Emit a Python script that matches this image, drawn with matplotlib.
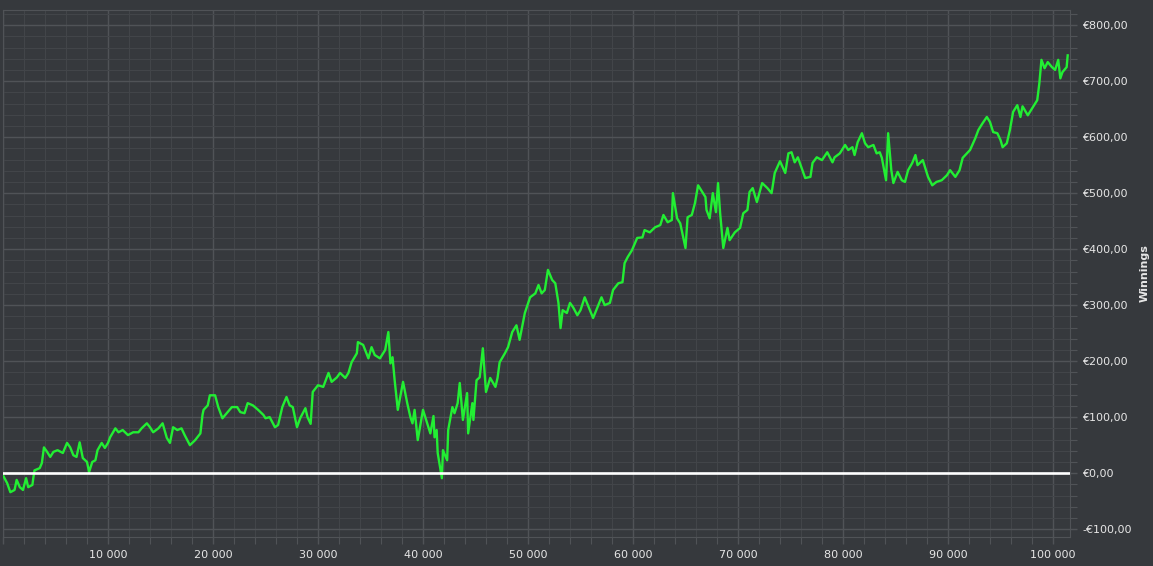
"""Cumulative winnings graph, dark theme."""

import matplotlib

matplotlib.use("Agg")
import matplotlib.pyplot as plt
from matplotlib.ticker import FuncFormatter, MultipleLocator

# hands played vs winnings (EUR)
hands = [
    0, 400, 700, 1100, 1300, 1600, 1900, 2200, 2400, 2800, 2900, 3000, 3500, 3700,
    3900, 4200, 4500, 4800, 5200, 5700, 6100, 6400, 6700, 7000, 7300, 7600, 8000,
    8200, 8500, 8800, 9000, 9400, 9700, 10000, 10200, 10700, 11000, 11400, 11900,
    12400, 12900, 13200, 13700, 14000, 14300, 14800, 15200, 15600, 15900, 16200,
    16600, 17000, 17300, 17800, 18300, 18800, 19000, 19100, 19500, 19700, 20200,
    20500, 20900, 21300, 21800, 22300, 22600, 23000, 23300, 23800, 24300, 24800,
    25000, 25400, 25900, 26200, 26600, 27000, 27300, 27600, 28000, 28300, 28800,
    29000, 29300, 29500, 30000, 30500, 31000, 31300, 31800, 32100, 32600, 32900,
    33200, 33700, 33800, 34300, 34800, 35100, 35400, 35900, 36400, 36700, 36900,
    37100, 37300, 37600, 38100, 38500, 38800, 39000, 39200, 39500, 40000, 40400,
    40700, 41000, 41100, 41300, 41400, 41800, 41900, 42300, 42400, 42800, 43000,
    43300, 43500, 43800, 44200, 44300, 44700, 44800, 45100, 45400, 45700, 46000,
    46400, 46900, 47100, 47300, 47800, 48100, 48500, 48900, 49200, 49700, 50200,
    50700, 51000, 51300, 51600, 51900, 52300, 52600, 52900, 53100, 53300, 53700,
    54000, 54300, 54700, 55000, 55400, 55700, 56200, 56700, 57000, 57300, 57800,
    58100, 58600, 59000, 59200, 59500, 59900, 60400, 60900, 61100, 61600, 62100,
    62600, 62900, 63300, 63700, 63800, 64200, 64500, 65000, 65200, 65600, 65900,
    66200, 66600, 66900, 67000, 67300, 67600, 67900, 68100, 68300, 68600, 69000,
    69200, 69700, 70200, 70500, 70900, 71100, 71400, 71800, 72300, 72800, 73200,
    73500, 74000, 74500, 74800, 75100, 75400, 75700, 76400, 76900, 77100, 77500,
    78000, 78500, 79000, 79200, 79700, 80200, 80500, 80900, 81100, 81400, 81800,
    82100, 82400, 82900, 83200, 83500, 83700, 84100, 84300, 84600, 84800, 85200,
    85600, 85900, 86200, 86600, 86900, 87100, 87600, 88100, 88500, 88900, 89400,
    89900, 90200, 90700, 91100, 91400, 92100, 92600, 92900, 93300, 93700, 94000,
    94300, 94700, 95000, 95200, 95600, 95900, 96200, 96600, 96900, 97100, 97600,
    98100, 98500, 98700, 98900, 99200, 99500, 99900, 100200, 100500, 100700,
    100900, 101300, 101400,
]
winnings = [
    -4, -18, -34, -30, -12, -25, -30, -9, -25, -21, -7, 5, 9, 18,
    46, 38, 29, 38, 41, 36, 54, 46, 32, 29, 55, 27, 20,
    2, 20, 23, 41, 54, 45, 54, 64, 80, 73, 77, 68,
    73, 73, 80, 89, 82, 73, 80, 89, 63, 54, 82,
    77, 80, 68, 50, 59, 71, 104, 113, 121, 139, 139,
    118, 98, 107, 118, 118, 109, 107, 125, 121, 113, 104,
    98, 100, 82, 86, 118, 136, 121, 118, 82, 98, 116,
    100, 88, 145, 157, 154, 179, 163, 171, 179, 170, 179,
    198, 214, 234, 229, 205, 225, 211, 205, 220, 252, 196,
    207, 166, 113, 163, 125, 100, 89, 113, 59, 113, 89,
    71, 102, 64, 77, 36, -9, 41, 23, 77, 118, 107,
    125, 161, 95, 143, 71, 125, 95, 166, 171, 223, 145,
    170, 154, 170, 198, 214, 225, 252, 264, 238, 286, 314,
    321, 336, 321, 327, 363, 345, 339, 304, 259, 291, 286,
    304, 296, 282, 291, 314, 300, 277, 300, 314, 300, 304,
    327, 339, 341, 375, 386, 398, 420, 421, 434, 430, 439,
    443, 461, 448, 452, 500, 455, 446, 402, 457, 461, 482,
    514, 502, 493, 470, 455, 500, 466, 518, 464, 402, 438,
    416, 430, 438, 464, 470, 502, 509, 484, 518, 509, 500,
    536, 557, 536, 571, 573, 555, 564, 527, 529, 554, 564,
    559, 573, 555, 564, 571, 586, 577, 582, 568, 591, 607,
    589, 582, 586, 571, 573, 563, 523, 607, 541, 518, 538,
    523, 520, 541, 554, 568, 550, 559, 529, 514, 520, 523,
    532, 541, 529, 541, 563, 577, 598, 613, 625, 636, 627,
    609, 607, 595, 582, 589, 613, 645, 657, 636, 655, 639,
    654, 666, 696, 738, 723, 734, 725, 720, 738, 705,
    716, 725, 746,
]

BG = "#36393d"
GRID_MAJOR = "#505357"
GRID_MINOR = "#424549"
TEXT = "#e6e6e6"


def euro(v, pos):
    s = f"€{abs(v):.2f}".replace(".", ",")
    return "-" + s if v < 0 else s


fig = plt.figure(figsize=(11.53, 5.66), dpi=100, facecolor=BG)
ax = fig.add_axes([3 / 1153, 29 / 566, 1067 / 1153, 527 / 566], facecolor=BG)

ax.plot(hands, winnings, color="#22ee33", linewidth=1.7, zorder=3)
ax.axhline(0, color="white", linewidth=1.9, zorder=4)

ax.set_xlim(0, 101620)
ax.set_ylim(-114, 827)

ax.xaxis.set_major_locator(MultipleLocator(10000))
ax.xaxis.set_minor_locator(MultipleLocator(2000))
ax.yaxis.set_major_locator(MultipleLocator(100))
ax.yaxis.set_minor_locator(MultipleLocator(20))
ax.xaxis.set_major_formatter(
    FuncFormatter(lambda v, p: "" if v <= 0 else f"{int(v):,}".replace(",", " "))
)
ax.yaxis.set_major_formatter(FuncFormatter(euro))

ax.yaxis.tick_right()
ax.yaxis.set_label_position("right")
ax.set_ylabel("Winnings", color=TEXT, fontsize=8, fontweight="bold")
ax.yaxis.set_label_coords(1.0655, 0.5)

ax.grid(True, which="major", color=GRID_MAJOR, linewidth=1.0)
ax.grid(True, which="minor", color=GRID_MINOR, linewidth=0.8)
ax.set_axisbelow(True)

ax.tick_params(which="both", colors=GRID_MAJOR, labelcolor=TEXT, labelsize=8)
ax.tick_params(which="major", length=5, width=1)
ax.tick_params(which="minor", length=5, width=0.8)
ax.tick_params(axis="y", pad=4)
ax.tick_params(axis="x", pad=4)
for sp in ax.spines.values():
    sp.set_color(GRID_MAJOR)

fig.savefig("out.png", dpi=100, facecolor=BG)
